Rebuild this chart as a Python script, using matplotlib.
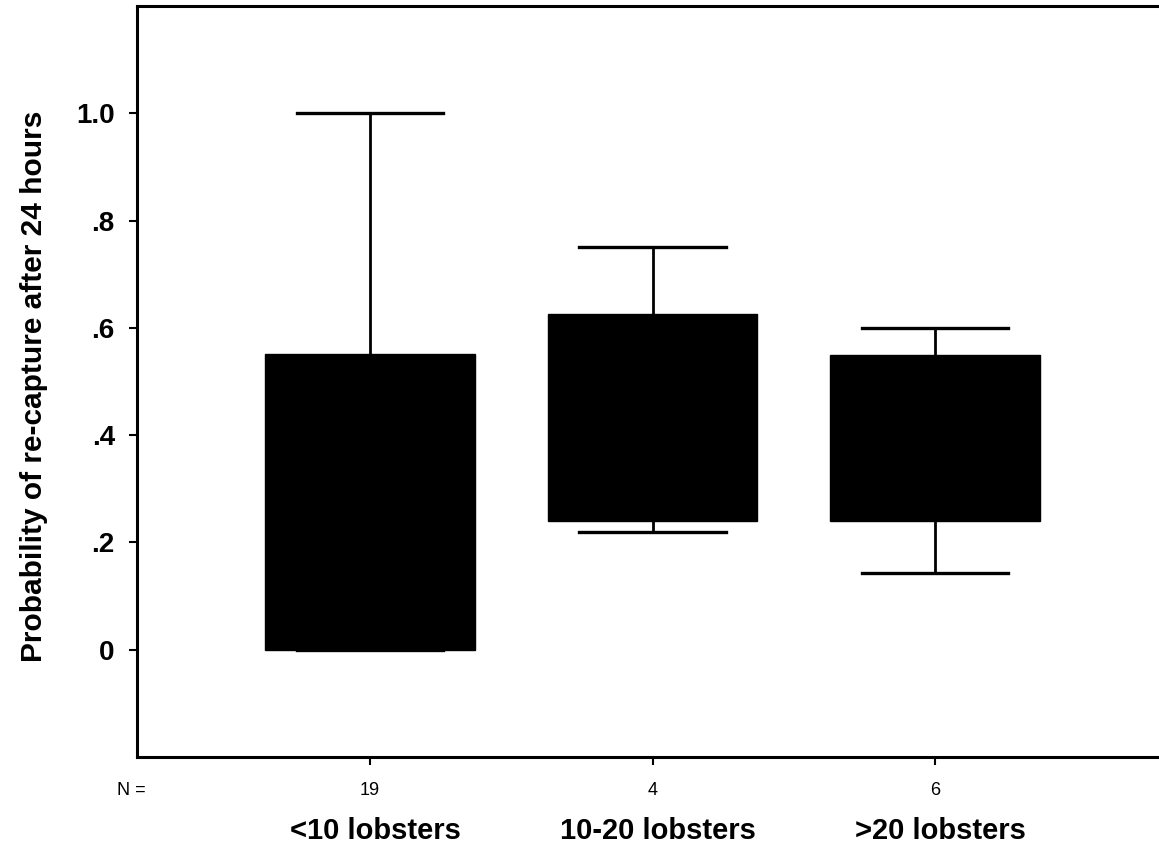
import numpy as np
import matplotlib
matplotlib.use("Agg")
import matplotlib.pyplot as plt

# box plot summary values
groups = ["<10 lobsters", "10-20 lobsters", ">20 lobsters"]
counts = [19, 4, 6]
q1 = [0.0, 0.24, 0.24]
q3 = [0.552, 0.625, 0.55]
medians = [0.25, 0.45, 0.45]  # hidden by the black boxes
whisker_low = [0.0, 0.22, 0.143]
whisker_high = [1.0, 0.75, 0.60]

yticks = [0.0, 0.2, 0.4, 0.6, 0.8, 1.0]
ytick_labels = ["0", ".2", ".4", ".6", ".8", "1.0"]

plt.rcParams["font.family"] = ["Liberation Sans", "DejaVu Sans"]

fig = plt.figure(figsize=(11.59, 8.49), dpi=100)
ax = fig.add_axes([0.1182, 0.1084, 0.8818, 0.8845])

stats = []
for i in range(len(groups)):
    stats.append({
        "label": groups[i],
        "q1": q1[i],
        "q3": q3[i],
        "med": medians[i],
        "whislo": whisker_low[i],
        "whishi": whisker_high[i],
        "fliers": [],
    })

positions = np.arange(1, len(groups) + 1)
ax.bxp(stats, positions=positions, widths=0.743, capwidths=0.517,
       patch_artist=True, showfliers=False,
       boxprops=dict(facecolor="black", edgecolor="black", linewidth=1.0),
       medianprops=dict(color="black", linewidth=1.0),
       whiskerprops=dict(color="black", linewidth=2.0),
       capprops=dict(color="black", linewidth=2.4))

ax.set_xlim(0.175, 3.793)
ax.set_ylim(-0.2, 1.2)

ax.set_yticks(yticks)
ax.set_yticklabels(ytick_labels, fontsize=20, fontweight="bold")
ax.set_xticks(positions)
ax.set_xticklabels([])
ax.tick_params(axis="both", direction="out", length=6, width=1.5, color="black")
ax.tick_params(axis="y", pad=10)

for side in ["left", "bottom", "top"]:
    ax.spines[side].set_linewidth(2.2)
ax.spines["right"].set_visible(False)

# N counts and group names below the axis
trans = ax.get_xaxis_transform()
ax.text(0.154, -0.044, "N =", transform=trans, ha="center", va="center", fontsize=13)
for pos, n, name in zip(positions, counts, groups):
    ax.text(pos, -0.044, str(n), transform=trans, ha="center", va="center", fontsize=13)
    ax.text(pos + 0.02, -0.0985, name, transform=trans, ha="center", va="center",
            fontsize=21, fontweight="bold")

fig.text(0.029, 1 - 386 / 849, "Probability of re-capture after 24 hours",
         rotation=90, ha="center", va="center", fontsize=21.5, fontweight="bold")

fig.savefig("out.png", dpi=100)
